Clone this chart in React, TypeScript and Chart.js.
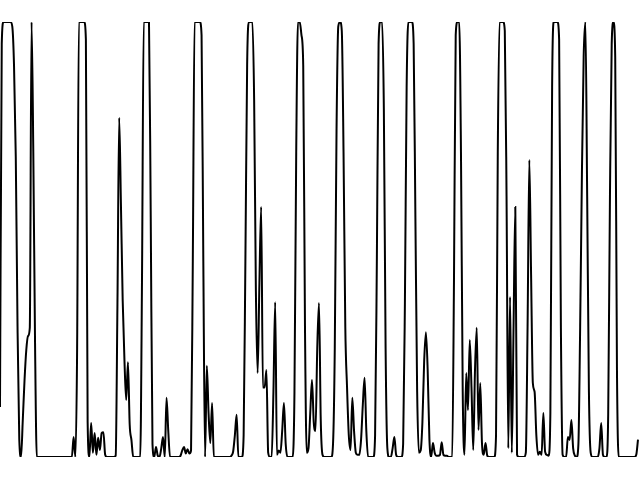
import React, { useEffect, useRef } from "react";
import { Chart, registerables } from "chart.js";

Chart.register(...registerables);

// Daily signal values (0 = baseline, 100 = saturation)
const part1 = [
  11.5, 95, 100, 100, 100, 100, 100, 99, 90, 69, 30, 4, 0, 8.5, 17.7, 24.6, 27.8, 29.7, 100, 70,
  26, 0, 0, 0, 0, 0, 0, 0, 0, 0, 0, 0, 0, 0, 0, 0, 0, 0, 0, 0,
  0, 0, 4.6, 0, 25, 100, 100, 100, 100, 96, 8, 0, 7.8, 1, 5.5, 0.5, 4.4, 1.6, 5.5, 5.7,
  0.5, 0, 0, 0, 0, 0, 0.3, 35, 78, 58, 36, 22.3, 13.1, 21.8, 7.4, 3.9, 0, 0, 0, 0,
  0, 40, 100, 100, 100, 100, 55, 3, 0, 2.3, 0.3, 0, 2, 4.6, 0, 13.6, 6, 0, 0, 0,
];
const part2 = [
  0, 0, 0, 0.3, 1.5, 2.3, 0.8, 1.8, 0.8, 1.5, 45, 100, 100, 100, 100, 97, 45, 0, 21, 10,
  3.2, 12.4, 0, 0, 0, 0, 0, 0, 0, 0, 0, 0, 0.3, 1.2, 5, 9.7, 0, 0, 0, 5,
  45, 90, 100, 100, 100, 82, 38, 19.3, 40, 57.5, 16, 16, 20, 1, 0, 0, 15, 35.6, 0.5, 1.5,
  1, 6, 12.4, 3, 0, 0, 0, 0, 15, 70, 100, 100, 97, 90, 30, 1, 2, 10, 17.7, 8,
  6, 25, 35.4, 8.5, 0.5, 0, 0, 0, 0, 0, 3, 25, 75, 99, 100, 98, 70, 30, 16, 5,
];
const part3 = [
  1.6, 13.6, 6, 1, 0.5, 0.5, 4, 12, 18.2, 6, 0, 0, 0, 0, 5, 45, 95, 100, 100, 80,
  25, 2, 0, 0, 2, 4.6, 0.5, 0, 0, 0, 3, 35, 85, 100, 100, 100, 95, 55, 15, 1,
  1.5, 8, 22, 28.7, 20, 4, 0, 3.2, 1, 0.3, 0.3, 0.5, 3.4, 0.5, 0.3, 0.3, 0, 0, 0, 40,
  97, 100, 100, 70, 15, 0.5, 19.3, 10.8, 26.9, 16, 1.6, 20, 29.7, 6.2, 17, 3, 0.5, 3.2, 0.3, 0,
  0, 0, 0, 5, 70, 100, 100, 100, 98, 60, 2, 36.8, 1, 30, 57.5, 0.5, 0, 0, 0, 0,
];
const part4 = [
  1, 30, 68.3, 42, 17, 15, 5, 0.5, 1.2, 0.5, 10.1, 1.2, 0.5, 0.3, 10, 85, 100, 100, 100, 96,
  30, 0.5, 0, 0, 4.6, 3.9, 8.5, 2, 0.3, 0, 3, 30, 65, 92, 100, 60, 15, 1, 0, 0,
  0, 0, 2, 7.8, 0.5, 0, 0, 10, 60, 95, 100, 92, 20, 0, 0, 0, 0, 0, 0, 0,
  0, 0, 0, 0.5, 4,
];

const values = [...part1, ...part2, ...part3, ...part4];
const days = values.map((_, i) => `Day ${i + 1}`);

export default function App() {
  const ref = useRef<HTMLCanvasElement | null>(null);

  useEffect(() => {
    if (!ref.current) return;
    const chart = new Chart(ref.current, {
      type: "line",
      data: {
        labels: days,
        datasets: [
          {
            data: values,
            borderColor: "#000000",
            borderWidth: 2,
            pointRadius: 0,
            fill: false,
            cubicInterpolationMode: "monotone",
          },
        ],
      },
      options: {
        responsive: false,
        animation: false,
        layout: { padding: { top: 22, bottom: 23, left: 0, right: 2 } },
        plugins: { legend: { display: false }, tooltip: { enabled: false } },
        scales: {
          x: { display: false },
          y: { display: false, min: 0, max: 100 },
        },
      },
    });
    return () => chart.destroy();
  }, []);

  return (
    <div style={{ position: "fixed", left: 0, top: 0, width: 640, height: 480, background: "#fff" }}>
      <canvas ref={ref} width={640} height={480} />
    </div>
  );
}
